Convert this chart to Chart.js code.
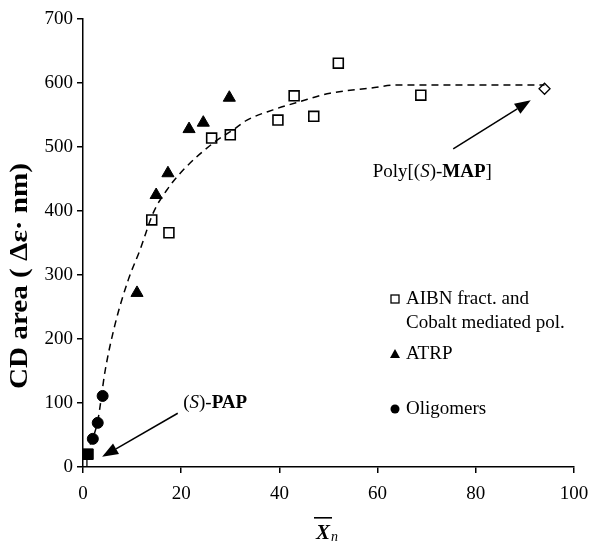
<!DOCTYPE html>
<html>
<head>
<meta charset="utf-8">
<script src="https://cdn.jsdelivr.net/npm/chart.js@4.4.1/dist/chart.umd.min.js"></script>
<style>
  html, body { margin: 0; padding: 0; background: #fff; }
  #wrap { width: 592px; height: 541px; }
</style>
</head>
<body>
<div id="wrap"><canvas id="cdChart" width="592" height="541"></canvas></div>
<script>
// Data
const xTicks = [0, 20, 40, 60, 80, 100];
const yTicks = [0, 100, 200, 300, 400, 500, 600, 700];

const aibnX = [14, 17.5, 26.2, 30, 39.7, 43, 47, 52, 68.8];
const aibnY = [386, 366, 514, 519, 542, 580, 548, 631, 581];

const atrpX = [11, 14.9, 17.3, 21.6, 24.5, 29.8];
const atrpY = [272, 425, 459, 528, 538, 577];

const oligoX = [2, 3, 4];
const oligoY = [44, 69, 111];

const papX = [1];
const papY = [20];

const mapX = [94];
const mapY = [591];

// dashed trend line
const fitX = [1.5, 3, 4.5, 6.5, 9.2, 11.6, 14.3, 17, 20.4, 26.5, 30.6, 33.4, 38.7, 44.2, 50.3, 58.5, 64, 80, 94];
const fitY = [35, 72, 150, 222, 292, 339, 397, 432, 464, 506, 527, 542, 558, 571, 584, 592, 597, 597, 597];

const toPts = (xs, ys) => xs.map((x, i) => ({ x: x, y: ys[i] }));

const SERIF = "'Liberation Serif', 'DejaVu Serif', serif";

// draw a run of text pieces with mixed styles
function richText(ctx, x, y, parts, size) {
  ctx.textBaseline = "middle";
  ctx.textAlign = "left";
  let cx = x;
  parts.forEach(p => {
    ctx.font = (p[1] || "") + " " + size + "px " + SERIF;
    ctx.fillText(p[0], cx, y);
    cx += ctx.measureText(p[0]).width;
  });
  return cx;
}

function arrow(ctx, x1, y1, x2, y2) {
  const ang = Math.atan2(y2 - y1, x2 - x1);
  const len = 16, half = 6;
  const bx = x2 - Math.cos(ang) * len, by = y2 - Math.sin(ang) * len;
  ctx.beginPath();
  ctx.moveTo(x1, y1);
  ctx.lineTo(bx, by);
  ctx.lineWidth = 1.5;
  ctx.stroke();
  ctx.beginPath();
  ctx.moveTo(x2, y2);
  ctx.lineTo(bx + Math.sin(ang) * half, by - Math.cos(ang) * half);
  ctx.lineTo(bx - Math.sin(ang) * half, by + Math.cos(ang) * half);
  ctx.closePath();
  ctx.fill();
}

const extras = {
  id: "extras",
  afterDraw(chart) {
    const ctx = chart.ctx;
    const xs = chart.scales.x, ys = chart.scales.y;
    const px = v => xs.getPixelForValue(v);
    const py = v => ys.getPixelForValue(v);
    ctx.save();
    ctx.fillStyle = "#000";
    ctx.strokeStyle = "#000";

    // y title
    ctx.save();
    ctx.translate(21, 276);
    ctx.rotate(-Math.PI / 2);
    ctx.font = "bold 25px " + SERIF;
    ctx.textAlign = "center";
    ctx.textBaseline = "middle";
    const yt = "CD area ( \u0394\u03b5\u00b7 nm)";
    const k = 226 / ctx.measureText(yt).width;
    ctx.scale(k, 1);
    ctx.fillText(yt, 0, 0);
    ctx.restore();

    // x title: X-bar with subscript n
    ctx.font = "bold italic 21px " + SERIF;
    ctx.textBaseline = "alphabetic";
    ctx.textAlign = "left";
    const xw = ctx.measureText("X").width;
    ctx.fillText("X", 316, 539);
    ctx.fillRect(314, 517, xw + 4, 1.6);
    ctx.font = "italic 14px " + SERIF;
    ctx.fillText("n", 316 + xw + 1, 541);

    // annotations
    richText(ctx, px(20.4), py(100), [["("], ["S", "italic"], [")-"], ["PAP", "bold"]], 19);
    arrow(ctx, px(19.3), py(84), px(3.9), py(16));
    richText(ctx, px(59), py(461), [["Poly[("], ["S", "italic"], [")-"], ["MAP", "bold"], ["]"]], 19);
    arrow(ctx, px(75.4), py(497), px(91.2), py(573));

    // legend
    const lx = 395, tx = 406;
    ctx.lineWidth = 1.3;
    ctx.strokeRect(lx - 4, 299 - 4, 8, 8);
    richText(ctx, tx, 299, [["AIBN fract. and"]], 19);
    richText(ctx, tx, 323, [["Cobalt mediated pol."]], 19);
    ctx.beginPath();
    ctx.moveTo(lx, 349);
    ctx.lineTo(lx + 5, 358);
    ctx.lineTo(lx - 5, 358);
    ctx.closePath();
    ctx.fill();
    richText(ctx, tx, 354, [["ATRP"]], 19);
    ctx.beginPath();
    ctx.arc(lx, 409, 4.5, 0, Math.PI * 2);
    ctx.fill();
    richText(ctx, tx, 409, [["Oligomers"]], 19);

    ctx.restore();
  }
};

const ctx = document.getElementById("cdChart").getContext("2d");
new Chart(ctx, {
  type: "scatter",
  data: {
    datasets: [
      {
        label: "fit",
        type: "line",
        data: toPts(fitX, fitY),
        borderColor: "#000",
        borderWidth: 1.5,
        borderDash: [7, 5],
        pointRadius: 0,
        cubicInterpolationMode: "monotone",
        fill: false
      },
      {
        label: "PAP bar",
        type: "line",
        data: [{ x: 0.8, y: 0 }, { x: 0.8, y: papY[0] }],
        borderColor: "#000",
        borderWidth: 1.3,
        pointRadius: 0
      },
      {
        label: "AIBN fract. and Cobalt mediated pol.",
        data: toPts(aibnX, aibnY),
        pointStyle: "rect",
        pointRadius: 7,
        borderColor: "#000",
        backgroundColor: "#fff",
        borderWidth: 1.6
      },
      {
        label: "ATRP",
        data: toPts(atrpX, atrpY),
        pointStyle: "triangle",
        pointRadius: 7,
        borderColor: "#000",
        backgroundColor: "#000",
        borderWidth: 1
      },
      {
        label: "Oligomers",
        data: toPts(oligoX, oligoY),
        pointStyle: "circle",
        pointRadius: 5.5,
        borderColor: "#000",
        backgroundColor: "#000",
        borderWidth: 1
      },
      {
        label: "(S)-PAP",
        data: toPts(papX, papY),
        pointStyle: "rect",
        pointRadius: 7.5,
        borderColor: "#000",
        backgroundColor: "#000",
        borderWidth: 1
      },
      {
        label: "Poly[(S)-MAP]",
        data: toPts(mapX, mapY),
        pointStyle: "rectRot",
        pointRadius: 5.5,
        borderColor: "#000",
        backgroundColor: "#fff",
        borderWidth: 1.3
      }
    ]
  },
  options: {
    responsive: false,
    animation: false,
    layout: { padding: { top: 19, right: 18, left: 0, bottom: 0 } },
    plugins: { legend: { display: false }, tooltip: { enabled: false } },
    scales: {
      x: {
        type: "linear",
        min: 0,
        max: 100,
        afterFit: s => { s.height = 74; s.paddingRight = 0; s.paddingLeft = 0; },
        afterBuildTicks: s => { s.ticks = xTicks.map(v => ({ value: v })); },
        ticks: { color: "#000", font: { family: SERIF, size: 19 }, padding: 10, maxRotation: 0 },
        grid: { display: true, drawOnChartArea: false, drawTicks: true, tickLength: 6, color: "#000", lineWidth: 1.5 },
        border: { display: true, color: "#000", width: 1.5 }
      },
      y: {
        type: "linear",
        min: 0,
        max: 700,
        afterFit: s => { s.width = 83; s.paddingTop = 0; s.paddingBottom = 0; },
        afterBuildTicks: s => { s.ticks = yTicks.map(v => ({ value: v })); },
        ticks: { color: "#000", font: { family: SERIF, size: 19 }, padding: 4 },
        grid: { display: true, drawOnChartArea: false, drawTicks: true, tickLength: 6, color: "#000", lineWidth: 1.5 },
        border: { display: true, color: "#000", width: 1.5 }
      }
    }
  },
  plugins: [extras]
});
</script>
</body>
</html>
